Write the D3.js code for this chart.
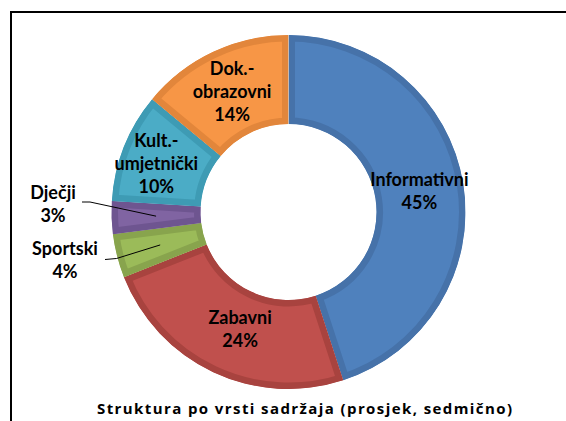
<!DOCTYPE html>
<html><head><meta charset="utf-8">
<script src="https://cdn.jsdelivr.net/npm/d3@7"></script>
<style>body{margin:0;background:#fff}svg{display:block}</style>
</head><body><svg id="c" width="566" height="421"></svg>
<script>
const categories = ["Informativni","Zabavni","Sportski","Dječji","Kult.-umjetnički","Dok.-obrazovni"];
const labelLines = [["Informativni"],["Zabavni"],["Sportski"],["Dječji"],["Kult.-","umjetnički"],["Dok.-","obrazovni"]];
const values = [45,24,4,3,10,14];
const fills = ["#4F81BD","#C0504D","#9BBB59","#8064A2","#4BACC6","#F79646"];
const borders = ["#4672A9","#A8433F","#88A44D","#6E5590","#3E9BB4","#E2863B"];
const title = "Struktura po vrsti sadržaja (prosjek, sedmično)";

const svg = d3.select("#c");
const cx = 288.5, cy = 212, rOuter = 177, rInner = 88;
const font = "Lato, 'Open Sans', sans-serif";

// frame
svg.append("rect").attr("x",11).attr("y",12).attr("width",620).attr("height",500)
  .attr("fill","none").attr("stroke","#000").attr("stroke-width",2);

const pie = d3.pie().sort(null).value(d=>d);
const arcs = pie(values);
const arc = d3.arc().innerRadius(rInner).outerRadius(rOuter);
const labelArc = d3.arc().innerRadius((rInner+rOuter)/2).outerRadius((rInner+rOuter)/2);

const g = svg.append("g").attr("transform",`translate(${cx},${cy})`);
const defs = svg.append("defs");
arcs.forEach((a,i)=>{
  defs.append("clipPath").attr("id","clip"+i).append("path").attr("d",arc(a));
});
g.selectAll("path.slice").data(arcs).join("path").attr("class","slice")
  .attr("d",arc).attr("fill",(d,i)=>fills[i])
  .attr("stroke",(d,i)=>borders[i]).attr("stroke-width",13)
  .attr("clip-path",(d,i)=>`url(#clip${i})`);

const lineH = 23;
// outside labels: block centre, leader start and elbow (relative to donut centre)
const outside = {
  2:{x:-223.5,y:48,start:[-183.5,47.5],elbow:[-172,46.5]},
  3:{x:-235.5,y:-7.5,start:[-206.5,-10],elbow:[-198.5,-10]}
};
const nudge = {1:[8,-3],4:[-9,0]};

arcs.forEach((a,i)=>{
  const lines = labelLines[i].concat([values[i]+"%"]);
  const c = labelArc.centroid(a);
  let x, y;
  if (outside[i]) {
    const o = outside[i];
    x = o.x; y = o.y;
    g.append("path")
      .attr("d", d3.line()([o.start,o.elbow,c]))
      .attr("fill","none").attr("stroke","#000").attr("stroke-width",1);
  } else {
    const n = nudge[i] || [0,0];
    x = c[0]+n[0]; y = c[1]+n[1];
  }
  const t = g.append("text").attr("text-anchor","middle")
    .attr("font-family",font).attr("font-weight","bold").attr("font-size",18).attr("fill","#000");
  const top = y - (lines.length-1)*lineH/2;
  lines.forEach((s,k)=>{
    t.append("tspan").attr("x",x).attr("y",top+k*lineH).attr("dy","0.35em").text(s);
  });
});

svg.append("text").attr("x",97).attr("y",414)
  .attr("font-family","'Open Sans', sans-serif").attr("font-weight","bold").attr("font-size",15)
  .attr("textLength",415).attr("lengthAdjust","spacing")
  .attr("fill","#000").text(title);
</script>
</body></html>
